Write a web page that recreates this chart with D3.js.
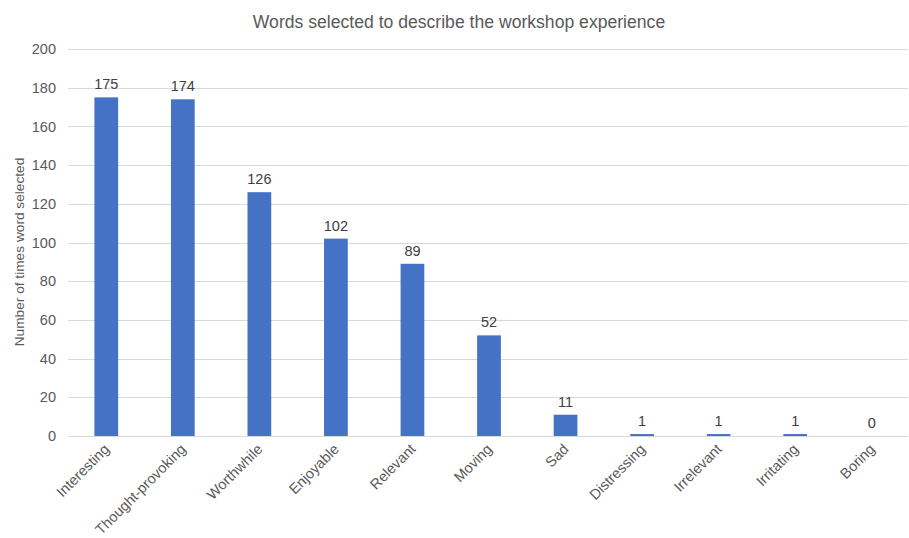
<!DOCTYPE html>
<html><head><meta charset="utf-8">
<script src="https://cdn.jsdelivr.net/npm/d3@7"></script>
<style>body{margin:0;background:#fff;}svg{display:block;font-family:"Liberation Sans",Arial,sans-serif;}</style>
</head><body>
<script>
const categories = ["Interesting","Thought-provoking","Worthwhile","Enjoyable","Relevant","Moving","Sad","Distressing","Irrelevant","Irritating","Boring"];
const values = [175,174,126,102,89,52,11,1,1,1,0];
const yTicks = [0,20,40,60,80,100,120,140,160,180,200];
const title = "Words selected to describe the workshop experience";
const yTitle = "Number of times word selected";

const W=909,H=538;
const svg=d3.select("body").append("svg").attr("width",W).attr("height",H);
const x=d3.scaleBand().domain(categories).range([68,910]).paddingInner(0.69).paddingOuter(0.345);
const y=d3.scaleLinear().domain([0,200]).range([436,49]);

svg.append("text").attr("x",459).attr("y",28).attr("text-anchor","middle")
  .attr("font-size",17.6).attr("fill","#595959").text(title);

const grid=svg.append("g");
grid.selectAll("line").data(yTicks).join("line")
  .attr("x1",68).attr("x2",908).attr("y1",d=>Math.round(y(d))+0.5).attr("y2",d=>Math.round(y(d))+0.5)
  .attr("stroke","#d9d9d9").attr("stroke-width",1);

const yAxis=svg.append("g").attr("transform","translate(68,0)")
  .call(d3.axisLeft(y).tickValues(yTicks).tickSize(0).tickPadding(12));
yAxis.select(".domain").remove();
yAxis.selectAll("text").attr("font-size",14.5).attr("fill","#595959").attr("font-family","Liberation Sans, Arial, sans-serif");

svg.append("text").attr("transform","translate(23.5,252) rotate(-90)").attr("text-anchor","middle")
  .attr("font-size",13.7).attr("fill","#595959").text(yTitle);

svg.append("g").selectAll("rect").data(values).join("rect")
  .attr("x",(d,i)=>x(categories[i])).attr("width",x.bandwidth())
  .attr("y",d=>y(d)).attr("height",d=>y(0)-y(d)).attr("fill","#4472C4");

svg.append("g").selectAll("text").data(values).join("text")
  .attr("x",(d,i)=>x(categories[i])+x.bandwidth()/2).attr("y",d=>y(d)-8)
  .attr("text-anchor","middle").attr("font-size",14.5).attr("fill","#404040").text(d=>d);

const xAxis=svg.append("g").attr("transform","translate(0,436)")
  .call(d3.axisBottom(x).tickSize(0).tickPadding(0));
xAxis.select(".domain").remove();
xAxis.selectAll("text").attr("font-size",14.5).attr("fill","#595959").attr("font-family","Liberation Sans, Arial, sans-serif")
  .attr("text-anchor","end").attr("dy",0).attr("dx",0)
  .attr("transform","translate(4,14) rotate(-45)");
</script>
</body></html>
